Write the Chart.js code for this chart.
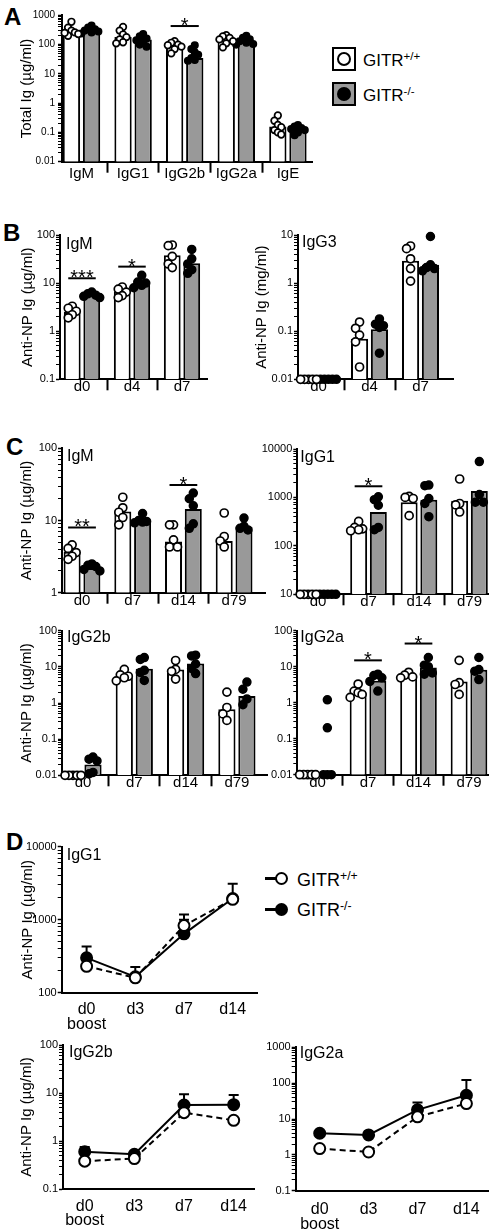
<!DOCTYPE html>
<html><head><meta charset="utf-8">
<script src="https://cdn.jsdelivr.net/npm/chart.js@4.4.1/dist/chart.umd.min.js"></script>
<style>
html,body{margin:0;padding:0;background:#fff}
body{position:relative;width:497px;height:1231px;overflow:hidden;font-family:"Liberation Sans",Arial,Helvetica,sans-serif;color:#000}
canvas{position:absolute}
.plab{position:absolute;font-weight:bold;font-size:24px;line-height:1}
.ltxt{position:absolute;line-height:1;white-space:nowrap}
.ltxt .sup{font-size:0.68em;vertical-align:0.5em}
.abs{position:absolute;box-sizing:border-box}
</style></head><body>
<div class="plab" style="left:4px;top:5px">A</div>
<div class="plab" style="left:3px;top:221px">B</div>
<div class="plab" style="left:6px;top:435px">C</div>
<div class="plab" style="left:6px;top:830px">D</div>

<!-- legend A -->
<div class="abs" style="left:332px;top:47px;width:24px;height:24px;border:2px solid #000;background:#fff"></div>
<div class="abs" style="left:337px;top:52px;width:14px;height:14px;border:2px solid #000;border-radius:50%;background:#fff"></div>
<div class="abs" style="left:332px;top:82px;width:24px;height:24px;border:2px solid #000;background:#999"></div>
<div class="abs" style="left:337px;top:87px;width:14px;height:14px;border-radius:50%;background:#000"></div>
<div class="ltxt" style="left:363px;top:51px;font-size:17px">GITR<span class="sup">+/+</span></div>
<div class="ltxt" style="left:363px;top:86px;font-size:17px">GITR<span class="sup">-/-</span></div>

<!-- legend D -->
<div class="abs" style="left:265px;top:877px;width:14px;height:3px;background:#000"></div>
<div class="abs" style="left:275px;top:872px;width:13px;height:13px;border:2.5px solid #000;border-radius:50%;background:#fff"></div>
<div class="abs" style="left:265px;top:908px;width:14px;height:3px;background:#000"></div>
<div class="abs" style="left:275px;top:903px;width:13px;height:13px;border-radius:50%;background:#000"></div>
<div class="ltxt" style="left:297px;top:870px;font-size:18px">GITR<span class="sup">+/+</span></div>
<div class="ltxt" style="left:297px;top:900px;font-size:18px">GITR<span class="sup">-/-</span></div>

<script>
const GRAY = '#999999';

// ===== Panel A : total Ig =====
const A_cats = ['IgM', 'IgG1', 'IgG2b', 'IgG2a', 'IgE'];
const A_yLabels = ['0.01', '0.1', '1', '10', '100', '1000'];
const A_wtBar = [275, 180, 100, 140, 0.16];
const A_koBar = [300, 150, 35, 120, 0.13];
const A_wtPts = [[600, 380, 300, 260, 230, 200, 250], [400, 300, 220, 180, 150, 120, 110], [130, 115, 100, 95, 85, 70, 50], [210, 190, 170, 150, 130, 110, 80], [0.38, 0.25, 0.18, 0.15, 0.12, 0.1, 0.085]];
const A_koPts = [[450, 380, 330, 300, 280, 260, 240], [230, 190, 160, 140, 120, 100, 85], [95, 70, 55, 45, 35, 30, 28], [200, 170, 150, 130, 115, 105, 100], [0.18, 0.16, 0.14, 0.13, 0.12, 0.1, 0.08]];
const A_sig = [{cat: 2, y: 430, text: '*'}];

// ===== Panel B : anti-NP primary =====
const B_cats = ['d0', 'd4', 'd7'];
const B1_yLabels = ['0.1', '1', '10', '100'];
const B1_wtBar = [2.5, 6.8, 38];
const B1_koBar = [5.8, 10.2, 26];
const B1_wtPts = [[3.3, 3.0, 2.6, 2.2, 1.9], [8.3, 7.5, 6.5, 5.5, 5.0], [62, 60, 36, 25, 21]];
const B1_koPts = [[6.5, 6.0, 5.6, 5.3, 5.0], [14.5, 10.5, 10, 9, 8], [50, 32, 25, 19, 16]];
const B1_sig = [{cat: 0, y: 12.6, text: '***'}, {cat: 1, y: 22, text: '*'}];

const B2_yLabels = ['0.01', '0.1', '1', '10'];
const B2_wtBar = [0.01, 0.07, 2.9];
const B2_koBar = [0.01, 0.11, 2.4];
const B2_wtPts = [[0.01, 0.01, 0.01, 0.01, 0.01], [0.155, 0.115, 0.083, 0.06, 0.018], [5.9, 5.2, 3.2, 2.0, 1.1]];
const B2_koPts = [[0.01, 0.01, 0.01, 0.01, 0.01], [0.18, 0.14, 0.13, 0.12, 0.035], [9.3, 2.4, 2.1, 2.0, 1.8]];

// ===== Panel C : anti-NP secondary =====
const C_cats = ['d0', 'd7', 'd14', 'd79'];
const C1_yLabels = ['1', '10', '100'];
const C1_wtBar = [3.7, 13.3, 5.1, 5.2];
const C1_koBar = [2.2, 9.7, 14.4, 8.1];
const C1_wtPts = [[4.6, 4.1, 3.6, 3.2, 2.9], [21, 15, 13, 11, 8.7], [8.7, 8.7, 5.4, 4.3, 4.3], [12.7, 6, 5.2, 4.3]];
const C1_koPts = [[2.5, 2.4, 2.3, 2.1, 2.0], [12.5, 10, 9.7, 9.5, 9.3], [24, 20, 16, 9, 7.8], [10.8, 8.3, 7.8, 7.4]];
const C1_sig = [{cat: 0, y: 8, text: '**'}, {cat: 2, y: 31, text: '*'}];

const C2_yLabels = ['10', '100', '1000', '10000'];
const C2_wtBar = [10, 230, 800, 850];
const C2_koBar = [10, 500, 900, 1350];
const C2_wtPts = [[10, 10, 10, 10, 10], [320, 240, 225, 215, 205], [1050, 1000, 950, 420], [2400, 750, 700, 500]];
const C2_koPts = [[10, 10, 10, 10, 10], [1030, 900, 690, 240, 215], [1800, 1750, 950, 750, 400], [5500, 1150, 800, 800]];
const C2_sig = [{cat: 1, y: 1700, text: '*'}];

const C3_yLabels = ['0.01', '0.1', '1', '10', '100'];
const C3_wtBar = [0.01, 5.8, 8.4, 0.67];
const C3_koBar = [0.02, 8.9, 12.3, 1.56];
const C3_wtPts = [[0.01, 0.01, 0.01, 0.01, 0.01], [8.5, 6, 5.5, 5, 4.1], [15, 8.5, 7.5, 4.6], [2.0, 0.75, 0.5, 0.33]];
const C3_koPts = [[0.032, 0.028, 0.025, 0.012, 0.011], [18, 16, 8, 7, 4.2], [21, 20, 12, 9, 6.5], [3.8, 2.4, 1.3, 0.9]];

const C4_yLabels = ['0.01', '0.1', '1', '10', '100'];
const C4_wtBar = [0.01, 1.9, 5.7, 3.9];
const C4_koBar = [0.01, 4.1, 9.5, 8.2];
const C4_wtPts = [[0.01, 0.01, 0.01, 0.01, 0.01], [3.3, 2.1, 1.9, 1.7, 1.4], [7, 5.8, 5.2, 4.9], [15, 3.6, 3.2, 1.7]];
const C4_koPts = [[1.2, 0.2, 0.01, 0.01, 0.01], [6.2, 5.7, 4.9, 3.9, 2.1], [18, 11, 10, 6.7, 6.2], [18, 8.3, 7.5, 4.4]];
const C4_sig = [{cat: 1, y: 15, text: '*'}, {cat: 2, y: 44, text: '*'}];

// ===== Panel D : boost time course =====
const D_cats = [['d0', 'boost'], 'd3', 'd7', 'd14'];
const D1_yLabels = ['100', '1000', '10000'];
const D1_wt = [230, 160, 830, 1900];
const D1_ko = [300, 165, 640, 1950];
const D1_wtUp = [null, null, 1180, null];
const D1_koUp = [430, 225, 1000, 3100];

const D2_yLabels = ['0.1', '1', '10', '100'];
const D2_wt = [0.38, 0.43, 3.9, 2.7];
const D2_ko = [0.6, 0.53, 5.6, 5.7];
const D2_wtUp = [null, null, null, null];
const D2_koUp = [0.75, 0.6, 9.4, 9.1];

const D3_yLabels = ['0.1', '1', '10', '100', '1000'];
const D3_wt = [1.5, 1.2, 11.5, 27];
const D3_ko = [4.0, 3.6, 18, 46];
const D3_wtUp = [null, null, null, null];
const D3_koUp = [null, null, 29, 122];

// ===== helpers =====
Chart.defaults.font.family = '"Liberation Sans", Arial, Helvetica, sans-serif';
Chart.defaults.color = '#000';

function mkCanvas(box) {
  const c = document.createElement('canvas');
  c.width = box[2]; c.height = box[3];
  c.style.left = box[0] + 'px'; c.style.top = box[1] + 'px';
  c.style.width = box[2] + 'px'; c.style.height = box[3] + 'px';
  document.body.appendChild(c);
  return c;
}
function logTicks(min, max) {
  const out = [];
  const e0 = Math.round(Math.log10(min)), e1 = Math.round(Math.log10(max));
  for (let e = e0; e < e1; e++) for (let m = 1; m < 10; m++) out.push(Number((m * Math.pow(10, e)).toPrecision(3)));
  out.push(max);
  return out;
}
function labelFor(labels, v) {
  const s = labels.find(l => Math.abs(Number(l) - v) <= Math.abs(v) * 1e-6);
  return s || '';
}
function swarmOffsets(vals, ppd, ppu, diam) {
  const step = diam * 0.42;
  const placed = [];
  const out = new Array(vals.length).fill(0);
  const order = vals.map((_, i) => i).sort((a, b) => vals[b] - vals[a]);
  const cands = [0, -1, 1, -2, 2, -3, 3, -4, 4];
  for (const i of order) {
    const y = Math.log10(vals[i]) * ppd;
    let chosen = cands[cands.length - 1];
    for (const c of cands) {
      const x = c * step;
      if (placed.every(p => Math.abs(p.y - y) >= diam * 0.85 || Math.abs(p.x - x) >= step * 0.99)) { chosen = c; break; }
    }
    placed.push({x: chosen * step, y});
    out[i] = chosen * step / ppu;
  }
  return out;
}
function yScaleLog(p) {
  const yMin = Number(p.yLabels[0]), yMax = Number(p.yLabels[p.yLabels.length - 1]);
  return {
    type: 'logarithmic', position: 'left', min: yMin, max: yMax,
    afterFit: s => { s.width = p.axisX - p.box[0]; },
    afterBuildTicks: s => { s.ticks = logTicks(yMin, yMax).map(v => ({value: v})); },
    ticks: {autoSkip: false, font: {size: p.tickFont || 11}, padding: p.tickPad == null ? 1 : p.tickPad, color: '#000',
      callback: v => labelFor(p.yLabels, v)},
    grid: {display: true, drawOnChartArea: false, drawTicks: true, tickLength: 4, tickColor: '#000',
      tickWidth: c => (c.tick && labelFor(p.yLabels, c.tick.value)) ? 1.5 : 1},
    border: {display: true, color: '#000', width: 2},
    title: p.ytitle ? {display: true, text: p.ytitle, color: '#000', font: {size: 15},
      padding: {top: p.ytitleX - p.box[0] - 9, bottom: 0}} : {display: false}
  };
}
function annot(p) {
  return {
    id: 'annot',
    beforeDatasetsDraw(chart) {
      if (!p.err) return;
      const ctx = chart.ctx, xs = chart.scales.x, ys = chart.scales.y;
      ctx.save(); ctx.strokeStyle = '#000'; ctx.lineWidth = 2;
      p.err.forEach(e => e.up.forEach((u, i) => {
        if (u == null) return;
        const x = xs.getPixelForValue(i), y0 = ys.getPixelForValue(e.vals[i]), y1 = ys.getPixelForValue(u);
        ctx.beginPath(); ctx.moveTo(x, y0); ctx.lineTo(x, y1);
        ctx.moveTo(x - 5, y1); ctx.lineTo(x + 5, y1); ctx.stroke();
      }));
      ctx.restore();
    },
    afterDraw(chart) {
      const ctx = chart.ctx, xs = chart.scales.x, ys = chart.scales.y, ca = chart.chartArea;
      ctx.save();
      ctx.fillStyle = '#000'; ctx.strokeStyle = '#000';
      if (p.title) {
        ctx.font = '16px "Liberation Sans", Arial, sans-serif';
        ctx.textBaseline = 'alphabetic'; ctx.textAlign = 'left';
        ctx.fillText(p.title, ca.left + p.titleDx, ca.top + p.titleDy);
      }
      (p.sig || []).forEach(s => {
        const y = ys.getPixelForValue(s.y);
        const x1 = xs.getPixelForValue(s.cat - 0.195) - 4, x2 = xs.getPixelForValue(s.cat + 0.195) + 4;
        ctx.lineWidth = 2; ctx.beginPath(); ctx.moveTo(x1, y); ctx.lineTo(x2, y); ctx.stroke();
        ctx.font = '20px "Liberation Sans", Arial, sans-serif';
        ctx.textAlign = 'center'; ctx.textBaseline = 'alphabetic';
        ctx.fillText(s.text, (x1 + x2) / 2, y + 6);
      });
      ctx.restore();
    }
  };
}
function baseOptions(p) {
  return {
    responsive: false, animation: false, events: [],
    layout: {padding: {left: 0, top: p.yTop - p.box[1], right: p.box[0] + p.box[2] - p.axisRight, bottom: 0}},
    plugins: {legend: {display: false}, tooltip: {enabled: false}}
  };
}
function barPanel(p) {
  const cv = mkCanvas(p.box);
  const yMin = Number(p.yLabels[0]), yMax = Number(p.yLabels[p.yLabels.length - 1]);
  const ppd = (p.yBottom - p.yTop) / (Math.log10(yMax) - Math.log10(yMin));
  const diam = 2 * p.r + 1.5;
  const half = 0.78 / 4;
  const scat = (pts, side) => {
    const data = [];
    pts.forEach((g, i) => {
      const off = swarmOffsets(g, ppd, p.sp, diam);
      g.forEach((v, k) => data.push({x: i + side * half + off[k], y: v}));
    });
    return data;
  };
  const n = p.cats.length;
  const opts = baseOptions(p);
  opts.scales = {
    x: {
      type: 'linear', position: 'bottom', offset: false,
      min: (p.axisX - p.c0) / p.sp, max: (p.axisRight - p.c0) / p.sp,
      afterFit: s => { s.height = p.box[1] + p.box[3] - p.yBottom; },
      afterBuildTicks: s => { const t = []; for (let i = 0; i < n; i++) { t.push({value: i}); if (i < n - 1) t.push({value: i + 0.5}); } s.ticks = t; },
      ticks: {autoSkip: false, maxRotation: 0, minRotation: 0, font: {size: 15}, padding: p.xPad, color: '#000',
        callback: v => Number.isInteger(v) ? p.cats[v] : ''},
      grid: {display: true, offset: false, drawOnChartArea: false, drawTicks: true, tickLength: 11, tickWidth: 2,
        tickColor: c => (c.tick && Number.isInteger(c.tick.value)) ? 'rgba(0,0,0,0)' : '#000'},
      border: {display: true, color: '#000', width: 2}
    },
    y: yScaleLog(p)
  };
  // bar ruler spacing includes the half-step divider ticks, so the percentage is doubled
  const catPct = 0.78 * 2;
  new Chart(cv, {
    type: 'bar',
    data: {datasets: [
      {type: 'bar', data: p.wtBar.map((v, i) => ({x: i, y: v})), backgroundColor: '#ffffff', borderColor: '#000', borderWidth: 2, categoryPercentage: catPct, barPercentage: 0.86, order: 2},
      {type: 'bar', data: p.koBar.map((v, i) => ({x: i, y: v})), backgroundColor: GRAY, borderColor: '#000', borderWidth: 2, categoryPercentage: catPct, barPercentage: 0.86, order: 2},
      {type: 'scatter', data: scat(p.wtPts, -1), pointRadius: p.r, pointBackgroundColor: '#ffffff', pointBorderColor: '#000', pointBorderWidth: 1.7, order: 0, clip: false},
      {type: 'scatter', data: scat(p.koPts, 1), pointRadius: p.r, pointBackgroundColor: '#000', pointBorderColor: '#000', pointBorderWidth: 1.5, order: 1, clip: false}
    ]},
    options: opts,
    plugins: [annot(p)]
  });
}
function linePanel(p) {
  const cv = mkCanvas(p.box);
  const n = p.cats.length;
  const opts = baseOptions(p);
  opts.scales = {
    x: {
      type: 'linear', position: 'bottom', offset: false,
      min: (p.axisX - p.c0) / p.sp, max: (p.axisRight - p.c0) / p.sp,
      afterFit: s => { s.height = p.box[1] + p.box[3] - p.yBottom; },
      afterBuildTicks: s => { const t = []; for (let i = 0; i < n; i++) t.push({value: i}); s.ticks = t; },
      ticks: {autoSkip: false, maxRotation: 0, minRotation: 0, font: {size: 16, lineHeight: 0.92}, padding: p.xPad, color: '#000',
        callback: v => Number.isInteger(v) ? p.cats[v] : ''},
      grid: {display: true, offset: false, drawOnChartArea: false, drawTicks: false},
      border: {display: true, color: '#000', width: 2}
    },
    y: yScaleLog(p)
  };
  p.err = [{vals: p.wt, up: p.wtUp}, {vals: p.ko, up: p.koUp}];
  new Chart(cv, {
    type: 'line',
    data: {datasets: [
      {data: p.wt.map((v, i) => ({x: i, y: v})), borderColor: '#000', borderWidth: 2, borderDash: [6, 4], tension: 0,
        pointRadius: 5.5, pointBackgroundColor: '#ffffff', pointBorderColor: '#000', pointBorderWidth: 2, order: 0, clip: false},
      {data: p.ko.map((v, i) => ({x: i, y: v})), borderColor: '#000', borderWidth: 2, tension: 0,
        pointRadius: 5.5, pointBackgroundColor: '#000', pointBorderColor: '#000', pointBorderWidth: 2, order: 1, clip: false}
    ]},
    options: opts,
    plugins: [annot(p)]
  });
}

// ===== build panels =====
barPanel({box: [0, 0, 320, 190], axisX: 62, axisRight: 312, yTop: 15.3, yBottom: 161.7, c0: 81.5, sp: 51.6,
  cats: A_cats, yLabels: A_yLabels, wtBar: A_wtBar, koBar: A_koBar, wtPts: A_wtPts, koPts: A_koPts, sig: A_sig,
  tickFont: 10, tickPad: 3, xPad: -8, r: 3.3, ytitle: 'Total Ig (µg/ml)', ytitleX: 27});

barPanel({box: [0, 215, 245, 195], axisX: 60, axisRight: 207, yTop: 235, yBottom: 379.3, c0: 82, sp: 50,
  cats: B_cats, yLabels: B1_yLabels, wtBar: B1_wtBar, koBar: B1_koBar, wtPts: B1_wtPts, koPts: B1_koPts, sig: B1_sig,
  xPad: -12, r: 4, ytitle: 'Anti-NP Ig (µg/ml)', ytitleX: 28, title: 'IgM', titleDx: 6, titleDy: 13.5});

barPanel({box: [240, 215, 257, 195], axisX: 298, axisRight: 453, yTop: 235, yBottom: 379.3, c0: 318.5, sp: 51,
  cats: B_cats, yLabels: B2_yLabels, wtBar: B2_wtBar, koBar: B2_koBar, wtPts: B2_wtPts, koPts: B2_koPts,
  xPad: -12, r: 4, ytitle: 'Anti-NP Ig (mg/ml)', ytitleX: 262, title: 'IgG3', titleDx: 4, titleDy: 11.5});

barPanel({box: [0, 425, 280, 195], axisX: 62, axisRight: 265, yTop: 448.3, yBottom: 592.7, c0: 82, sp: 50.7,
  cats: C_cats, yLabels: C1_yLabels, wtBar: C1_wtBar, koBar: C1_koBar, wtPts: C1_wtPts, koPts: C1_koPts, sig: C1_sig,
  xPad: -12, r: 4, ytitle: 'Anti-NP Ig (µg/ml)', ytitleX: 27, title: 'IgM', titleDx: 5, titleDy: 13});

barPanel({box: [240, 425, 257, 195], axisX: 297.3, axisRight: 488, yTop: 449, yBottom: 594.3, c0: 318, sp: 50.5,
  cats: C_cats, yLabels: C2_yLabels, wtBar: C2_wtBar, koBar: C2_koBar, wtPts: C2_wtPts, koPts: C2_koPts, sig: C2_sig,
  xPad: -12, r: 4, title: 'IgG1', titleDx: 3, titleDy: 12.5});

barPanel({box: [0, 612, 280, 195], axisX: 62, axisRight: 267, yTop: 630.7, yBottom: 775.3, c0: 83, sp: 51.3,
  cats: C_cats, yLabels: C3_yLabels, wtBar: C3_wtBar, koBar: C3_koBar, wtPts: C3_wtPts, koPts: C3_koPts,
  xPad: -12, r: 4, ytitle: 'Anti-NP Ig (µg/ml)', ytitleX: 27, title: 'IgG2b', titleDx: 5, titleDy: 11.5});

barPanel({box: [240, 612, 257, 195], axisX: 297.3, axisRight: 488, yTop: 630.7, yBottom: 774.7, c0: 317.5, sp: 50.5,
  cats: C_cats, yLabels: C4_yLabels, wtBar: C4_wtBar, koBar: C4_koBar, wtPts: C4_wtPts, koPts: C4_koPts, sig: C4_sig,
  xPad: -12, r: 4, title: 'IgG2a', titleDx: 3, titleDy: 11.5});

linePanel({box: [0, 830, 265, 212], axisX: 61.7, axisRight: 258.3, yTop: 846.7, yBottom: 992.7, c0: 86.7, sp: 48.9,
  cats: D_cats, yLabels: D1_yLabels, wt: D1_wt, ko: D1_ko, wtUp: D1_wtUp, koUp: D1_koUp,
  xPad: 9.4, ytitle: 'Anti-NP Ig (µg/ml)', ytitleX: 28, title: 'IgG1', titleDx: 5, titleDy: 13});

linePanel({box: [0, 1030, 262, 201], axisX: 63, axisRight: 257, yTop: 1045, yBottom: 1189, c0: 85, sp: 50.3,
  cats: D_cats, yLabels: D2_yLabels, wt: D2_wt, ko: D2_ko, wtUp: D2_wtUp, koUp: D2_koUp,
  xPad: 9.8, ytitle: 'Anti-NP Ig (µg/ml)', ytitleX: 27, title: 'IgG2b', titleDx: 6, titleDy: 11.5});

linePanel({box: [240, 1030, 257, 201], axisX: 295.7, axisRight: 488, yTop: 1047.3, yBottom: 1190.7, c0: 319.7, sp: 48.9,
  cats: D_cats, yLabels: D3_yLabels, wt: D3_wt, ko: D3_ko, wtUp: D3_wtUp, koUp: D3_koUp,
  xPad: 11.4, title: 'IgG2a', titleDx: 4, titleDy: 11});
</script>
</body></html>
